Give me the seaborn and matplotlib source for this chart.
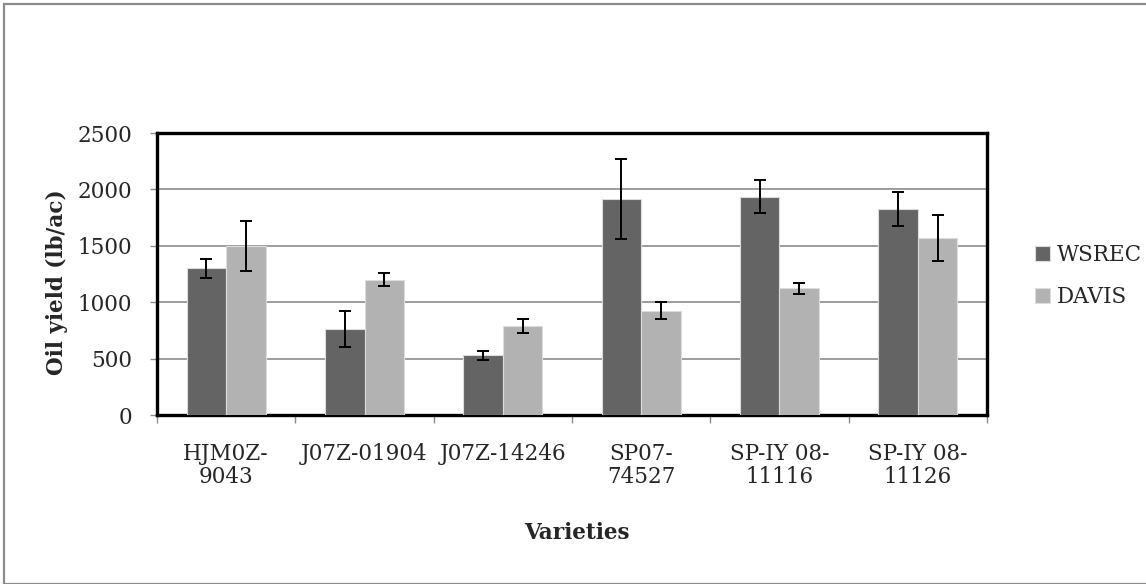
import numpy as np
import pandas as pd
import seaborn as sns
import matplotlib.pyplot as plt
from matplotlib.patches import Rectangle

# Data
varieties = ["HJM0Z-\n9043", "J07Z-01904", "J07Z-14246", "SP07-\n74527", "SP-IY 08-\n11116", "SP-IY 08-\n11126"]
wsrec = [1300, 765, 530, 1915, 1935, 1830]
wsrec_err = [87, 160, 40, 358, 145, 151]
davis = [1500, 1200, 790, 925, 1125, 1570]
davis_err = [220, 58, 63, 77, 48, 202]

df = pd.DataFrame({
    "Variety": varieties * 2,
    "Yield": wsrec + davis,
    "Site": ["WSREC"] * 6 + ["DAVIS"] * 6,
})
errs = wsrec_err + davis_err

sns.set_style("white")
plt.rcParams["font.family"] = ["DejaVu Serif"]
FS = 15.5

fig = plt.figure(figsize=(11.46, 5.84), dpi=100)
ax = fig.add_axes([157 / 1146, 1 - 415 / 584, 830 / 1146, 282 / 584])

sns.barplot(data=df, x="Variety", y="Yield", hue="Site",
            palette=["#646464", "#b2b2b2"], width=0.57, errorbar=None,
            edgecolor="#dcdcdc", linewidth=0.8, ax=ax, zorder=3)

# error bars on each bar
for bar, e in zip(ax.patches[:12], errs):
    cx = bar.get_x() + bar.get_width() / 2
    ax.errorbar(cx, bar.get_height(), yerr=e, color="black", lw=1.4,
                capsize=4.5, capthick=1.4, zorder=4)

ax.set_ylim(0, 2500)
ax.set_xlim(-0.5, 5.5)
ax.set_yticks([0, 500, 1000, 1500, 2000, 2500])
ax.yaxis.grid(True, color="#8c8c8c", lw=1.2, zorder=0)
ax.set_axisbelow(True)

for s in ax.spines.values():
    s.set_visible(True)
    s.set_color("black")
    s.set_linewidth(2.4)

ax.tick_params(axis="y", which="major", length=5, width=1, color="#8c8c8c",
               direction="out", labelsize=FS, pad=13, left=True)
ax.tick_params(axis="x", which="major", length=0, labelsize=FS, pad=20)
for t in ax.get_xticklabels():
    t.set_linespacing(1.05)
ax.set_xticks(np.arange(-0.5, 6, 1), minor=True)
ax.tick_params(axis="x", which="minor", length=6, width=1, color="#8c8c8c",
               direction="out", bottom=True)

ax.set_ylabel("Oil yield (lb/ac)", fontsize=FS, fontweight="bold")
ax.yaxis.set_label_coords(-0.107, 0.47)
ax.set_xlabel("Varieties", fontsize=FS, fontweight="bold")
ax.xaxis.set_label_coords(0.506, -0.378)

handles, labels = ax.get_legend_handles_labels()
ax.legend_.remove()
fig.legend(handles, labels, loc="center left",
           bbox_to_anchor=(1024 / 1146, 1 - 276 / 584), frameon=False,
           fontsize=FS, handlelength=0.7, handleheight=0.7, borderpad=0,
           handletextpad=0.35, labelspacing=0.9)

# outer chart-area border
fig.patches.append(Rectangle((4 / 1146, 0), 1.2, 1 - 4 / 584,
                             transform=fig.transFigure, fill=False,
                             edgecolor="#8c8c8c", lw=1.6))

fig.savefig("out.png", dpi=100)
